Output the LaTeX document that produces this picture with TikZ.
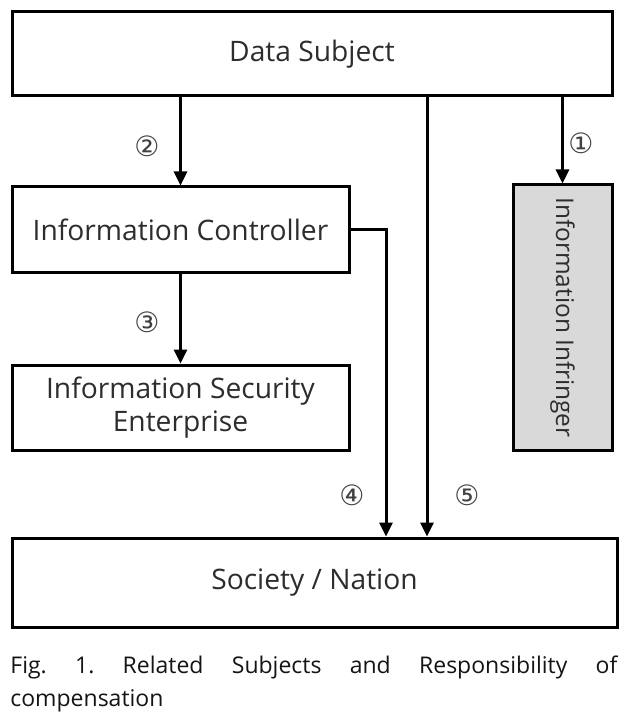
\documentclass[tikz,border=0pt]{standalone}
\usepackage{fontspec}
\setmainfont{Open Sans}
\newfontfamily\circfont{DejaVu Sans}
\usetikzlibrary{arrows.meta}
\definecolor{infgray}{RGB}{217,217,217}
\definecolor{figtext}{RGB}{20,20,20}
\definecolor{boxtext}{RGB}{45,45,45}

\begin{document}
\frenchspacing
\begin{tikzpicture}[
    x=0.5pt, y=-0.5pt,
    line cap=butt, line join=miter,
    box/.style={draw=black, line width=1.5pt, fill=white, inner sep=0pt, text=boxtext,
                font=\fontsize{14.1}{16.5}\selectfont},
    infbox/.style={box, fill=infgray, font=\fontsize{12.2}{15}\selectfont},
    arr/.style={black, line width=1.5pt, -{Triangle[length=7pt,width=6.5pt]}},
    num/.style={font=\circfont\fontsize{14}{16}\selectfont, text=black!75},
    figcap/.style={figtext, font=\fontsize{11.5}{14.5}\selectfont, align=left,
                inner sep=0pt, anchor=north west},
  ]
  \useasboundingbox (0,0) rectangle (638,715);

  % ---- boxes ------------------------------------------------
  \node[box, minimum width=300pt, minimum height=42pt]   (subj) at (312,54)    {Data Subject};
  \node[box, minimum width=168.5pt, minimum height=43pt] (ctrl) at (180.5,230) {Information Controller};
  \node[box, minimum width=168.5pt, minimum height=42.5pt, align=center]
                                                          (sec)  at (180.5,407.5) {Information Security\\Enterprise};
  % rotated: west anchor is at the top
  \node[infbox, rotate=-90, minimum width=132.5pt, minimum height=49.5pt]
                                                          (infr) at (562.5,317.5) {Information Infringer};
  \node[box, minimum width=302.5pt, minimum height=44.5pt] (soc) at (314.5,582.5) {Society / Nation};

  % ---- bend points ------------------------------------------
  \coordinate (x4) at (386,0);
  \coordinate (x5) at (427,0);

  % ---- arrows -----------------------------------------------
  \draw[arr] (subj.south -| infr.west) -- (infr.west);
  \draw[arr] (subj.south -| ctrl.north) -- (ctrl.north);
  \draw[arr] (ctrl.south) -- (sec.north);
  \draw[arr] (ctrl.east) -| (x4 |- soc.north);
  \draw[arr] (x5 |- subj.south) -- (x5 |- soc.north);

  % ---- numbers ----------------------------------------------
  \node[num] (n1) at (581,143) {①};
  \node[num] (n2) at (147,146) {②};
  \node[num] (n3) at (147,322) {③};
  \node[num] (n4) at (352,495) {④};
  \node[num] (n5) at (467,495) {⑤};

  % ---- caption ----------------------------------------------
  \node[figcap] (caption) at (10,655)
    {\makebox[303.5pt][s]{Fig. 1. Related Subjects and Responsibility of}\\[2pt]compensation};

\end{tikzpicture}
\end{document}
